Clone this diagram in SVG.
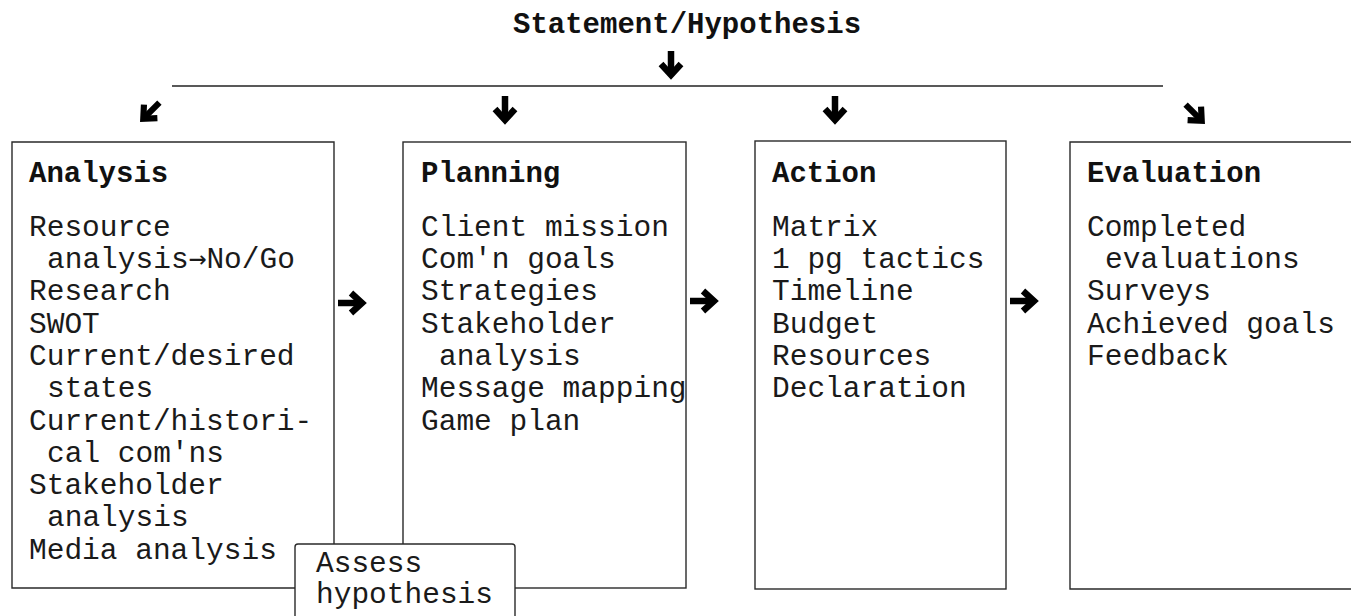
<svg xmlns="http://www.w3.org/2000/svg" width="1351" height="616" viewBox="0 0 1351 616">
<style>
  .box { fill: none; stroke: #2a2a2a; stroke-width: 1.4; }
  .t { font-family: "Liberation Mono", "Courier New", monospace; font-size: 29.5px; fill: #1a1a1a; }
  .h { font-family: "Liberation Mono", "Courier New", monospace; font-size: 29px; font-weight: bold; fill: #111; }
  .sym { font-family: "DejaVu Sans Mono", monospace; }
  .ln { stroke: #222; stroke-width: 1.6; fill: none; }
  .ar { stroke: #000; stroke-width: 6.5; fill: none; stroke-linejoin: miter; stroke-miterlimit: 10; }
</style>
<defs>
  <g id="arr">
    <path class="ar" d="M-14,0 H8"/>
    <path class="ar" d="M-1,-10 L10,0 L-1,10"/>
  </g>
</defs>
<rect width="1351" height="616" fill="#fff"/>

<g id="title">
  <text class="h" x="513" y="33">Statement/Hypothesis</text>
</g>

<g id="connectors">
  <line class="ln" x1="172" y1="86" x2="1163" y2="86"/>
  <use href="#arr" transform="translate(671,65) rotate(90)"/>
  <use href="#arr" transform="translate(150,112) rotate(135) scale(0.95)"/>
  <use href="#arr" transform="translate(505,110) rotate(90)"/>
  <use href="#arr" transform="translate(835,110) rotate(90)"/>
  <use href="#arr" transform="translate(1195,114) rotate(45) scale(0.95)"/>
  <use href="#arr" transform="translate(352,303)"/>
  <use href="#arr" transform="translate(704,301)"/>
  <use href="#arr" transform="translate(1024,301)"/>
</g>

<g id="analysis">
  <path class="box" d="M295,588 H12 V142 H334 V588 H300"/>
  <text class="h" x="29" y="182">Analysis</text>
  <text class="t" x="29" y="236">Resource</text>
  <text class="t" x="47" y="268">analysis<tspan class="sym">→</tspan>No/Go</text>
  <text class="t" x="29" y="300">Research</text>
  <text class="t" x="29" y="333">SWOT</text>
  <text class="t" x="29" y="365">Current/desired</text>
  <text class="t" x="47" y="397">states</text>
  <text class="t" x="29" y="430">Current/histori-</text>
  <text class="t" x="47" y="462">cal com'ns</text>
  <text class="t" x="29" y="494">Stakeholder</text>
  <text class="t" x="47" y="526">analysis</text>
  <text class="t" x="29" y="559">Media analysis</text>
</g>

<g id="planning">
  <rect class="box" x="403" y="142" width="283" height="446"/>
  <text class="h" x="421" y="182">Planning</text>
  <text class="t" x="421" y="236">Client mission</text>
  <text class="t" x="421" y="268">Com'n goals</text>
  <text class="t" x="421" y="300">Strategies</text>
  <text class="t" x="421" y="333">Stakeholder</text>
  <text class="t" x="439" y="365">analysis</text>
  <text class="t" x="421" y="397">Message mapping</text>
  <text class="t" x="421" y="430">Game plan</text>
</g>

<g id="action">
  <rect class="box" x="755" y="141" width="251" height="448"/>
  <text class="h" x="772" y="182">Action</text>
  <text class="t" x="772" y="236">Matrix</text>
  <text class="t" x="772" y="268">1 pg tactics</text>
  <text class="t" x="772" y="300">Timeline</text>
  <text class="t" x="772" y="333">Budget</text>
  <text class="t" x="772" y="365">Resources</text>
  <text class="t" x="772" y="397">Declaration</text>
</g>

<g id="evaluation">
  <path class="box" d="M1352,142 H1070 V589 H1352"/>
  <text class="h" x="1087" y="182">Evaluation</text>
  <text class="t" x="1087" y="236">Completed</text>
  <text class="t" x="1105" y="268">evaluations</text>
  <text class="t" x="1087" y="300">Surveys</text>
  <text class="t" x="1087" y="333">Achieved goals</text>
  <text class="t" x="1087" y="365">Feedback</text>
</g>

<g id="assess">
  <rect x="295" y="544" width="220" height="90" rx="3" fill="#fff" stroke="#2a2a2a" stroke-width="1.4"/>
  <text class="t" x="316" y="572">Assess</text>
  <text class="t" x="316" y="603">hypothesis</text>
</g>
</svg>
